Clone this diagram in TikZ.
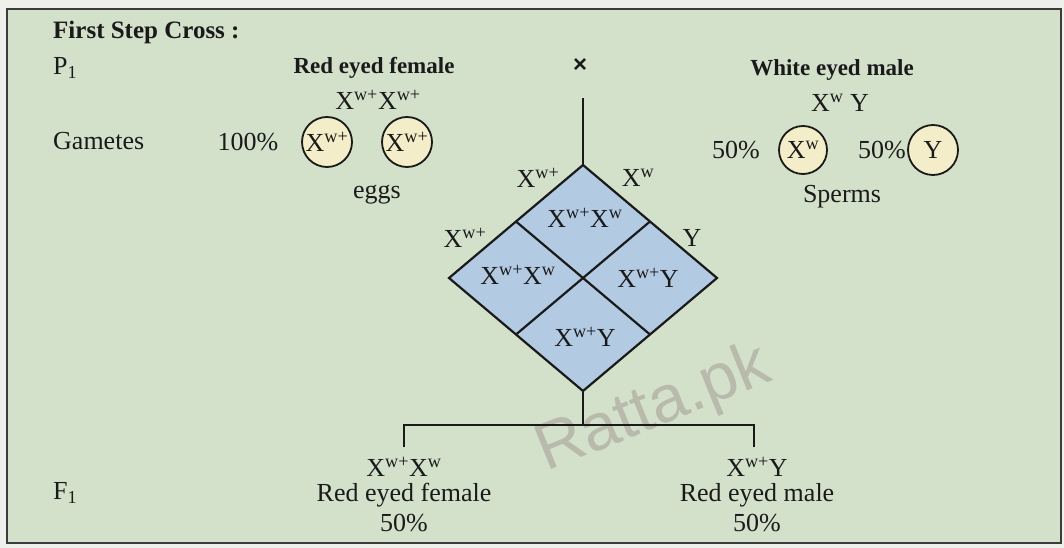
\documentclass[tikz,border=0pt]{standalone}
\usepackage{fontspec}
\setmainfont{Liberation Serif}
\newfontfamily\wmfont{Liberation Sans}
\usetikzlibrary{calc}
\definecolor{bggreen}{HTML}{D3E1CB}
\definecolor{outside}{HTML}{EEF0EB}
\definecolor{cellblue}{HTML}{B3CAE3}
\definecolor{gamyellow}{HTML}{F4EDC9}
\definecolor{ink}{HTML}{1A1A1A}
\definecolor{wmark}{HTML}{9E948E}
\newcommand{\Xsup}[1]{X\textsuperscript{#1}}
\begin{document}
\begin{tikzpicture}[x=1pt,y=-1pt,
  txt/.style={inner sep=0pt, text=ink, font=\fontsize{26}{30}\selectfont},
  boldlbl/.style={inner sep=0pt, text=ink, font=\fontsize{23}{27}\selectfont\bfseries},
  gamete/.style={circle, draw=ink, line width=1.8pt, fill=gamyellow, minimum size=50pt, inner sep=0pt, text=ink, font=\fontsize{26}{30}\selectfont},
  conn/.style={draw=ink, line width=1.8pt},
  grid/.style={draw=ink, line width=2.2pt, line join=miter}
]
\useasboundingbox (0,0) rectangle (1064,548);
\fill[outside] (0,0) rectangle (1064,548);
\filldraw[fill=bggreen, draw=ink!85, line width=2pt] (7,9) rectangle (1061,543);

% watermark
\node[inner sep=0pt, rotate=22, text=wmark, opacity=0.5, font=\fontsize{66}{66}\wmfont] (wm) at (654,410) {Ratta.pk};

% headings
\node[txt, anchor=west, font=\fontsize{25}{30}\selectfont\bfseries] (title) at (53,32) {First Step Cross :};
\node[txt, anchor=west] (p1) at (53,68) {P\textsubscript{1}};
\node[boldlbl] (fem) at (374,68) {Red eyed female};
\node[txt, font=\fontsize{24}{26}\selectfont\wmfont\bfseries] (cross) at (580,66) {×};
\node[boldlbl] (mal) at (832,70) {White eyed male};
\node[txt] (femg) at (378,100) {\Xsup{w+}\Xsup{w+}};
\node[txt] (malg) at (840,103) {\Xsup{w}\ Y};

% gametes
\node[txt, anchor=west] (gam) at (53,141) {Gametes};
\node[txt] (p100) at (248,142) {100\%};
\node[gamete] (e1) at (327,142) {\Xsup{w+}};
\node[gamete] (e2) at (407,142) {\Xsup{w+}};
\node[txt] (p50a) at (736,150) {50\%};
\node[gamete, minimum size=48pt] (s1) at (803,150) {\Xsup{w}};
\node[txt] (p50b) at (882,150) {50\%};
\node[gamete] (s2) at (933,150) {Y};
\node[txt] (eggs) at (377,195) {eggs};
\node[txt] (sperms) at (842,197) {Sperms};

% diamond (Punnett square)
\coordinate (dt) at (583,165);
\coordinate (dr) at (717,278);
\coordinate (db) at (583,391);
\coordinate (dl) at (449,278);
\coordinate (ctop) at (583,98);
\filldraw[grid, fill=cellblue] (dt) -- (dr) -- (db) -- (dl) -- cycle;
\draw[grid] ($(dt)!0.5!(dl)$) -- ($(dr)!0.5!(db)$);
\draw[grid] ($(dt)!0.5!(dr)$) -- ($(dl)!0.5!(db)$);
\draw[conn] (ctop) -- (dt);

\node[txt] (la) at (538,178) {\Xsup{w+}};
\node[txt] (lb) at (638,178) {\Xsup{w}};
\node[txt] (lc) at (465,238) {\Xsup{w+}};
\node[txt] (ld) at (692,238) {Y};

\node[txt] (c1) at (585,218) {\Xsup{w+}\Xsup{w}};
\node[txt] (c2) at (518,275) {\Xsup{w+}\Xsup{w}};
\node[txt] (c3) at (648,278) {\Xsup{w+}Y};
\node[txt] (c4) at (585,337) {\Xsup{w+}Y};

% F1 branches
\coordinate (bj) at (583,425);
\coordinate (bl) at (404,425);
\coordinate (br) at (754,425);
\coordinate (bld) at (404,447);
\coordinate (brd) at (754,447);
\draw[conn] (db) -- (bj);
\draw[conn, line join=miter] (bld) -- (bl) -- (br) -- (brd);

\node[txt] (f1) at (53,493) [anchor=west] {F\textsubscript{1}};
\node[txt] (og1) at (404,467) {\Xsup{w+}\Xsup{w}};
\node[txt] (on1) at (404,495) {Red eyed female};
\node[txt] (op1) at (404,523) {50\%};
\node[txt] (og2) at (757,467) {\Xsup{w+}Y};
\node[txt] (on2) at (757,495) {Red eyed male};
\node[txt] (op2) at (757,523) {50\%};
\end{tikzpicture}
\end{document}
